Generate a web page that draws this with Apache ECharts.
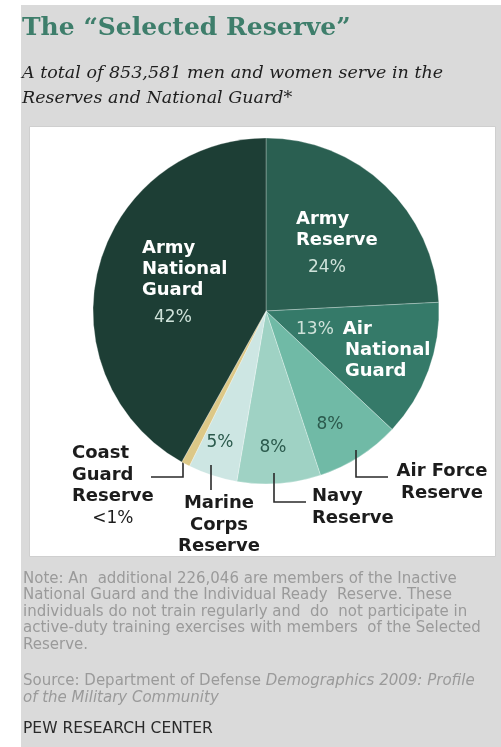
<!DOCTYPE html>
<html>
<head>
<meta charset="utf-8">
<script src="https://cdn.jsdelivr.net/npm/echarts@6/dist/echarts.min.js"></script>
<style>
html,body{margin:0;padding:0;background:#fff;}
#chart{width:501px;height:747px;}
</style>
</head>
<body>
<div id="chart"></div>
<script>
// ---- data ----
const categories = ['Army Reserve', 'Air National Guard', 'Air Force Reserve', 'Navy Reserve', 'Marine Corps Reserve', 'Coast Guard Reserve', 'Army National Guard'];
const shares = [24.2, 12.8, 7.9, 7.8, 4.6, 0.8, 41.9];
const shareLabels = ['24%', '13%', '8%', '8%', '5%', '<1%', '42%'];
const sliceColors = ['#2a5f51', '#357a69', '#70baa6', '#9fd2c4', '#cde6e3', '#dcc887', '#1d3e35'];

const titleText = 'The \u201cSelected Reserve\u201d';
const subtitleLines = ['A total of 853,581 men and women serve in the', 'Reserves and National Guard*'];
const noteLines = [
  'Note: An  additional 226,046 are members of the Inactive',
  'National Guard and the Individual Ready  Reserve. These',
  'individuals do not train regularly and  do  not participate in',
  'active-duty training exercises with members  of the Selected',
  'Reserve.'
];
const sourcePlain = 'Source: Department of Defense ';
const sourceItalic1 = 'Demographics 2009: Profile';
const sourceItalic2 = 'of the Military Community';
const creditText = 'PEW RESEARCH CENTER';

// ---- label placement (layout only) ----
const B = 'DejaVu Sans';
const labelRich = {
  w: {fontFamily: B, fontWeight: 'bold', fontSize: 18, lineHeight: 21, color: '#ffffff'},
  wi: {fontFamily: B, fontWeight: 'bold', fontSize: 18, lineHeight: 21, color: '#ffffff', padding: [0, 0, 0, 49]},
  lp: {fontFamily: B, fontSize: 17, lineHeight: 21, color: '#cfe2da', padding: [12, 0, 0, 12]},
  lp0: {fontFamily: B, fontSize: 17, lineHeight: 21, color: '#cfe2da', padding: [0, 9, 0, 0]},
  dp: {fontFamily: B, fontSize: 17, lineHeight: 21, color: '#2b5a4d'},
  k: {fontFamily: B, fontWeight: 'bold', fontSize: 18, lineHeight: 21.5, color: '#1c1c1c'},
  kp: {fontFamily: B, fontSize: 17, lineHeight: 22, color: '#1c1c1c', align: 'center'}
};
function labelText(i) {
  switch (i) {
    case 0: return '{w|Army}\n{w|Reserve}\n{lp|' + shareLabels[0] + '}';
    case 1: return '{lp0|' + shareLabels[1] + '}{w|Air}\n{wi|National}\n{wi|Guard}';
    case 2: return '{dp|' + shareLabels[2] + '}';
    case 3: return '{dp|' + shareLabels[3] + '}';
    case 4: return '{dp|' + shareLabels[4] + '}';
    case 5: return '{k|Coast}\n{k|Guard}\n{k|Reserve}\n{kp|' + shareLabels[5] + '}';
    case 6: return '{w|Army}\n{w|National}\n{w|Guard}\n{lp|' + shareLabels[6] + '}';
  }
}
// x, y, align, verticalAlign, leader points
const labelPlace = [
  {x: 296, y: 209, align: 'left', va: 'top'},
  {x: 296, y: 319, align: 'left', va: 'top'},
  {x: 330, y: 425, align: 'center', va: 'middle'},
  {x: 273, y: 448, align: 'center', va: 'middle'},
  {x: 220, y: 443, align: 'center', va: 'middle'},
  {x: 72, y: 443, align: 'left', va: 'top', line: [[183, 460], [183, 477], [151, 477]]},
  {x: 142, y: 238, align: 'left', va: 'top'}
];
const extraLabels = [
  {text: 'Marine\nCorps\nReserve', x: 219, y: 493, align: 'center', line: [[211, 465], [211, 490]]},
  {text: 'Navy\nReserve', x: 312, y: 486, align: 'left', line: [[274, 473], [274, 502], [306, 502]]},
  {text: 'Air Force\nReserve', x: 442, y: 461, align: 'center', line: [[356, 450], [356, 477], [388, 477]]}
];

const chart = echarts.init(document.getElementById('chart'), null, {renderer: 'canvas'});

const pieData = categories.map((c, i) => ({
  name: c,
  value: shares[i],
  itemStyle: {color: sliceColors[i]},
  label: {formatter: labelText(i), rich: labelRich},
  labelLine: {show: !!labelPlace[i].line}
}));

const graphics = [
  {type: 'rect', shape: {x: 21, y: 5, width: 480, height: 742}, style: {fill: '#dadada'}, z: -10, silent: true},
  {type: 'rect', shape: {x: 29.5, y: 126.5, width: 466, height: 430}, style: {fill: '#ffffff', stroke: '#cfcfcf', lineWidth: 1}, z: -9, silent: true},
  {type: 'text', x: 22, y: 16, style: {text: titleText, font: 'bold 25px "DejaVu Serif"', fill: '#3e7e6b'}},
  {type: 'text', x: 22, y: 61, style: {text: subtitleLines.join('\n'), font: 'italic 17.5px "DejaVu Serif"', fill: '#1e1e1e', lineHeight: 25}},
  {type: 'text', x: 23, y: 570.5, style: {text: noteLines.join('\n'), font: '15px "DejaVu Sans"', fill: '#9a9a9a', lineHeight: 16.5}},
  {type: 'text', x: 23, y: 673, style: {
    text: '{n|' + sourcePlain + '}{i|' + sourceItalic1 + '}\n{i|' + sourceItalic2 + '}',
    rich: {
      n: {font: '15px "DejaVu Sans"', fill: '#9a9a9a', lineHeight: 16.5},
      i: {font: 'italic 15px "DejaVu Sans"', fill: '#9a9a9a', lineHeight: 16.5}
    }
  }},
  {type: 'text', x: 23, y: 721, style: {text: creditText, font: '15.5px "DejaVu Sans"', fill: '#2a2a2a'}}
];
extraLabels.forEach(e => {
  graphics.push({type: 'polyline', shape: {points: e.line}, style: {stroke: '#2a2a2a', lineWidth: 1.6, fill: null}, z: 10});
  graphics.push({type: 'text', x: e.x, y: e.y, style: {text: e.text, font: 'bold 18px "DejaVu Sans"', fill: '#1c1c1c', lineHeight: 21.5, align: e.align}, z: 10});
});

chart.setOption({
  animation: false,
  backgroundColor: '#ffffff',
  graphic: graphics,
  series: [{
    type: 'pie',
    center: [266, 311],
    radius: 173,
    startAngle: 90,
    clockwise: true,
    avoidLabelOverlap: false,
    itemStyle: {borderColor: 'rgba(255,255,255,0.35)', borderWidth: 0.8},
    label: {show: true, position: 'outside'},
    labelLine: {lineStyle: {color: '#2a2a2a', width: 1.6}},
    labelLayout: function (p) {
      const L = labelPlace[p.dataIndex];
      const r = {x: L.x, y: L.y, align: L.align, verticalAlign: L.va};
      if (L.line) r.labelLinePoints = L.line;
      return r;
    },
    data: pieData,
    z: 2
  }]
});
</script>
</body>
</html>
